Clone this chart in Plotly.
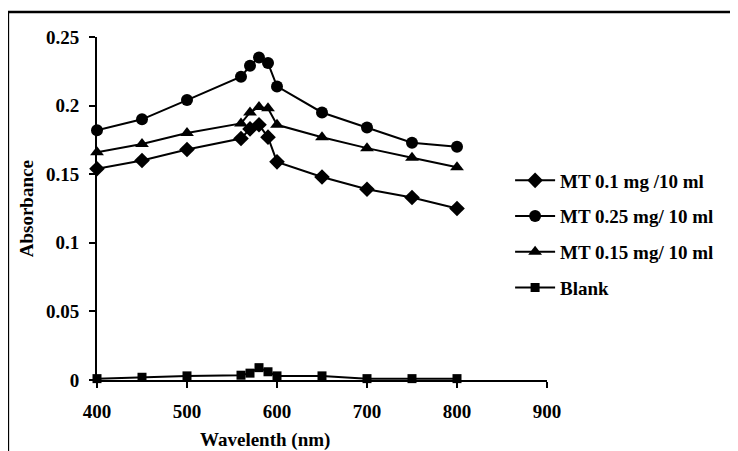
import plotly.graph_objects as go

wavelength = [400, 450, 500, 560, 570, 580, 590, 600, 650, 700, 750, 800]
mt_01 = [0.154, 0.160, 0.168, 0.176, 0.183, 0.186, 0.177, 0.159, 0.148, 0.139, 0.133, 0.125]
mt_025 = [0.182, 0.190, 0.204, 0.221, 0.229, 0.235, 0.231, 0.214, 0.195, 0.184, 0.173, 0.170]
mt_015 = [0.166, 0.172, 0.180, 0.187, 0.195, 0.199, 0.198, 0.186, 0.177, 0.169, 0.162, 0.155]
blank = [0.001, 0.002, 0.003, 0.0035, 0.005, 0.009, 0.006, 0.003, 0.003, 0.001, 0.001, 0.001]

series_names = ["MT 0.1 mg /10 ml", "MT 0.25 mg/ 10 ml", "MT 0.15 mg/ 10 ml", "Blank"]
x_ticks = [400, 500, 600, 700, 800, 900]
y_ticks = [0, 0.05, 0.1, 0.15, 0.2, 0.25]
y_tick_labels = ["0", "0.05", "0.1", "0.15", "0.2", "0.25"]

FONT = "Liberation Serif"
FS = 19
symbols = ["diamond", "circle", "triangle-up", "square"]
sizes = [12, 12, 12, 9]
values = [mt_01, mt_025, mt_015, blank]

fig = go.Figure()
for i, (name, ys) in enumerate(zip(series_names, values)):
    fig.add_trace(go.Scatter(
        x=wavelength, y=ys, name=name, mode="lines+markers",
        line=dict(color="black", width=2),
        marker=dict(symbol=symbols[i], size=sizes[i], color="black"),
        cliponaxis=False, legendgroup=f"g{i}",
    ))

fig.update_layout(
    width=738, height=451,
    margin=dict(l=89, r=199, t=29, b=79),
    paper_bgcolor="white", plot_bgcolor="white",
    font=dict(family=FONT, size=FS, color="black"),
    showlegend=True,
    legend=dict(
        x=0.918, y=0.637, xanchor="left", yanchor="top",
        bgcolor="rgba(0,0,0,0)", borderwidth=0,
        font=dict(family=FONT, size=FS, color="black", weight="bold"),
        tracegroupgap=8, traceorder="grouped", itemwidth=40,
    ),
    xaxis=dict(
        range=[400, 900], tickvals=x_ticks, showgrid=False, zeroline=False,
        showline=True, linecolor="black", linewidth=2,
        ticks="outside", ticklen=6, tickwidth=2, tickcolor="black",
        ticklabelstandoff=7,
        tickfont=dict(family=FONT, size=FS, color="black", weight="bold"),
    ),
    yaxis=dict(
        range=[0, 0.25], tickvals=y_ticks, ticktext=y_tick_labels,
        showgrid=False, zeroline=False,
        showline=True, linecolor="black", linewidth=2,
        ticks="outside", ticklen=6, tickwidth=2, tickcolor="black",
        ticklabelstandoff=6,
        tickfont=dict(family=FONT, size=FS, color="black", weight="bold"),
    ),
    annotations=[
        dict(text="<b>Wavelenth (nm)</b>", xref="paper", yref="paper",
             x=0.373, y=-0.175, xanchor="center", yanchor="middle",
             showarrow=False, font=dict(family=FONT, size=FS, color="black")),
        dict(text="<b>Absorbance</b>", xref="paper", yref="paper",
             x=-0.156, y=0.5, xanchor="center", yanchor="middle", textangle=-90,
             showarrow=False, font=dict(family=FONT, size=FS, color="black")),
    ],
    shapes=[
        dict(type="rect", xref="paper", yref="paper",
             x0=-0.198, y0=-0.4, x1=1.6, y1=1.0729,
             line=dict(color="black", width=2.5), layer="below"),
    ],
)

fig.write_html("out.html")
